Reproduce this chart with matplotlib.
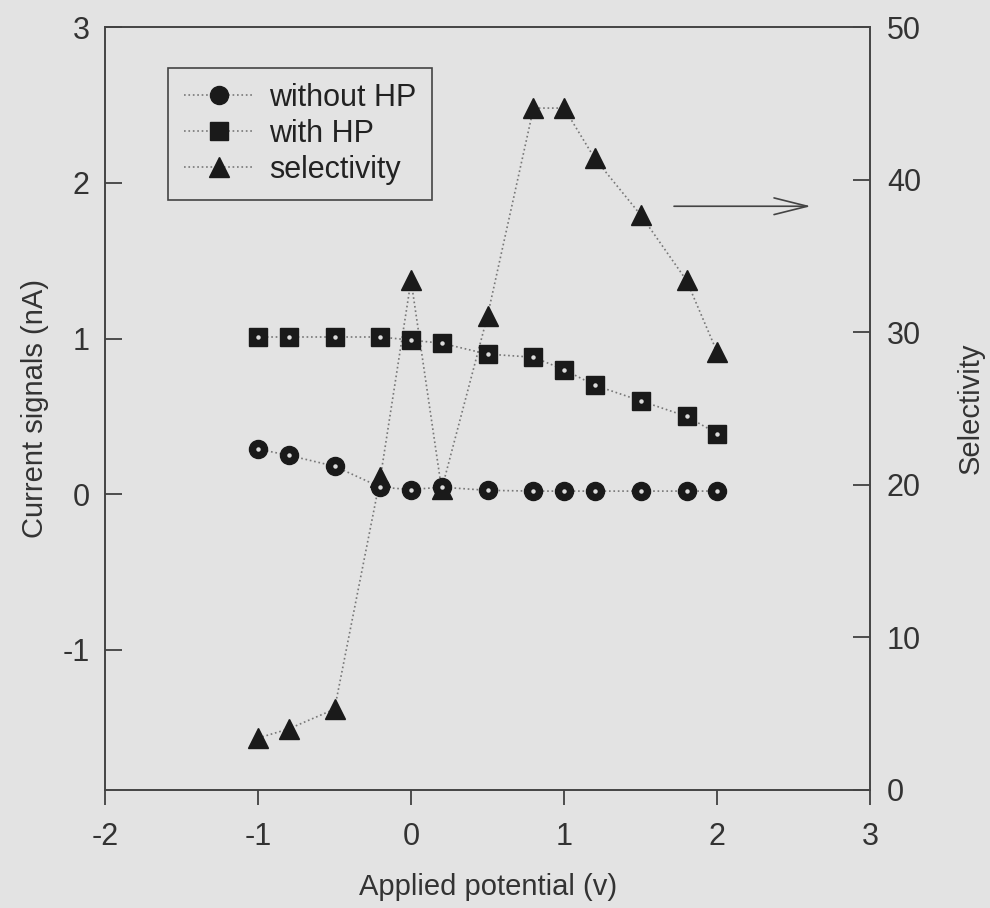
import matplotlib
matplotlib.use("Agg")
import matplotlib.pyplot as plt

plt.rcParams["font.family"] = ["Liberation Sans", "DejaVu Sans"]
plt.rcParams["axes.unicode_minus"] = False

# applied potential (V)
potential = [-1.0, -0.8, -0.5, -0.2, 0.0, 0.2, 0.5, 0.8, 1.0, 1.2, 1.5, 1.8, 2.0]
# current signals (nA)
without_hp = [0.29, 0.25, 0.18, 0.045, 0.03, 0.045, 0.025, 0.02, 0.02, 0.02, 0.02, 0.02, 0.02]
with_hp = [1.01, 1.01, 1.01, 1.01, 0.99, 0.97, 0.90, 0.88, 0.80, 0.70, 0.60, 0.50, 0.39]
# selectivity (right axis)
selectivity = [3.4, 4.0, 5.3, 20.5, 33.4, 19.7, 31.1, 44.7, 44.7, 41.4, 37.7, 33.4, 28.7]

bg = "#e3e3e3"
txt = "#333333"
line_kw = dict(linestyle=":", color="#777777", linewidth=1.2, markerfacecolor="#1a1a1a",
               markeredgecolor="#1a1a1a")

fig = plt.figure(figsize=(9.9, 9.08), dpi=100, facecolor=bg)
ax = fig.add_axes([0.106, 0.130, 0.773, 0.840], facecolor="none")
ax2 = ax.twinx()
ax.set_zorder(ax2.get_zorder() + 1)

h1, = ax.plot(potential, without_hp, marker="o", markersize=13, label="without HP", **line_kw)
h2, = ax.plot(potential, with_hp, marker="s", markersize=12.5, label="with HP", **line_kw)
h3, = ax2.plot(potential, selectivity, marker="^", markersize=14.5, label="selectivity", **line_kw)
# small light dots in the centre of circles and squares
ax.plot(potential, without_hp, "o", color="#dddddd", markersize=2.2, zorder=5)
ax.plot(potential, with_hp, "o", color="#dddddd", markersize=2.2, zorder=5)

ax.set_xlim(-2, 3)
ax.set_ylim(-1.9, 3)
ax2.set_ylim(0, 50)
ax.set_xticks([-2, -1, 0, 1, 2, 3])
ax.set_yticks([-1, 0, 1, 2, 3])
ax2.set_yticks([0, 10, 20, 30, 40, 50])

ax.tick_params(axis="x", direction="out", length=11, width=1.2, labelsize=22, pad=12, colors=txt)
ax.tick_params(axis="y", direction="in", length=12, width=1.2, labelsize=22, pad=11, colors=txt)
ax2.tick_params(axis="y", direction="in", length=12, width=1.2, labelsize=22, pad=12, colors=txt)
for a in (ax, ax2):
    for s in a.spines.values():
        s.set_color("#444444")
        s.set_linewidth(1.2)

ax.set_xlabel("Applied potential (v)", fontsize=21, color=txt, labelpad=15)
ax.set_ylabel("Current signals (nA)", fontsize=21, color=txt, labelpad=10)
ax2.set_ylabel("Selectivity", fontsize=21, color=txt, labelpad=26)

leg = ax.legend(handles=[h1, h2, h3], loc="upper left", bbox_to_anchor=(0.083, 0.947),
                fontsize=22, frameon=True, fancybox=False, framealpha=1, facecolor=bg,
                edgecolor="#444444", handlelength=2.3, handletextpad=0.5, borderpad=0.5,
                labelspacing=0.2, borderaxespad=0)
leg.get_frame().set_linewidth(1.2)
for t in leg.get_texts():
    t.set_color("#222222")

# arrow pointing to the selectivity axis
ax.annotate("", xy=(2.63, 1.85), xytext=(1.70, 1.85),
            arrowprops=dict(arrowstyle="->,head_length=2.4,head_width=0.6",
                            color="#444444", linewidth=1.2))

fig.savefig("out.png", dpi=100, facecolor=bg)
